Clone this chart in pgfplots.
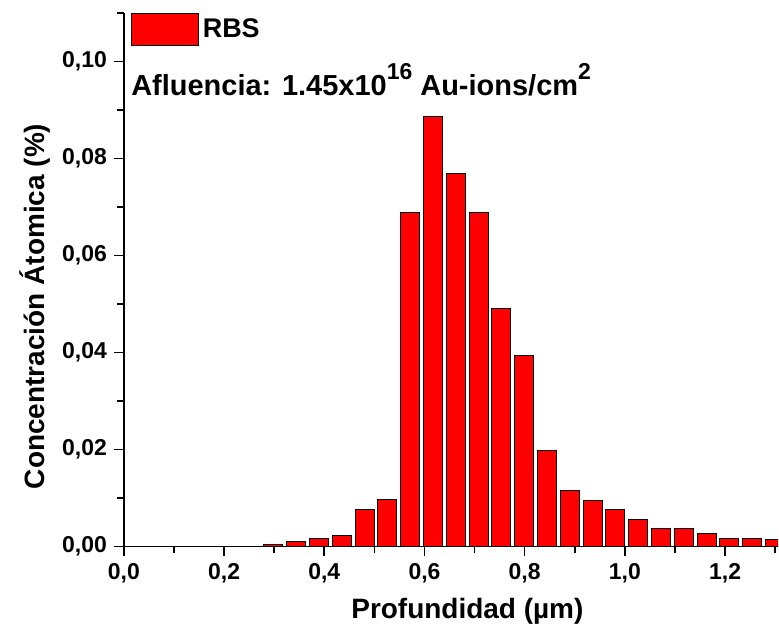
\documentclass[border=0pt]{standalone}
\usepackage{pgfplots}
\pgfplotsset{compat=1.18}
\usepackage{fontspec}
\setmainfont{Liberation Sans}

\definecolor{barred}{HTML}{FF0000}
\newcommand{\supr}[1]{\raisebox{0.55em}{\fontsize{11.5}{12}\selectfont #1}}

\begin{document}
\begin{tikzpicture}
\begin{axis}[
    scale only axis,
    width=327.5pt, height=267pt,
    xmin=0, xmax=1.306,
    ymin=0, ymax=0.11,
    axis x line*=bottom,
    axis y line*=left,
    axis line style={line width=0.8pt},
    tick align=outside,
    tick style={black, line width=0.8pt},
    major tick length=5pt,
    minor tick length=3.2pt,
    xtick={0,0.2,0.4,0.6,0.8,1.0,1.2},
    minor xtick={0.1,0.3,0.5,0.7,0.9,1.1,1.3},
    ytick={0,0.02,0.04,0.06,0.08,0.10},
    minor ytick={0.01,0.03,0.05,0.07,0.09,0.11},
    /pgf/number format/assume math mode=true,
    xticklabel style={/pgf/number format/.cd, fixed, fixed zerofill, precision=1, use comma},
    yticklabel style={/pgf/number format/.cd, fixed, fixed zerofill, precision=2, use comma},
    tick label style={font=\bfseries\fontsize{11.5}{13}\selectfont},
    label style={font=\bfseries\fontsize{14}{16}\selectfont},
    xlabel={Profundidad (µm)},
    ylabel={Concentración Átomica (\%)},
    xlabel style={at={(axis description cs:0.525,-0.122)}, anchor=center},
    ylabel style={at={(axis description cs:-0.136,0.45)}, anchor=center, rotate=0},
    ybar, bar width=0.0379,
    legend style={at={(axis description cs:0.0107,1)}, anchor=north west,
        draw=none, fill=none, inner sep=0pt, outer sep=0pt,
        font=\bfseries\fontsize{13.5}{15}\selectfont},
    legend cell align=left,
    legend image code/.code={\draw[#1, draw=black, line width=0.5pt] (0pt,-8pt) rectangle (33.5pt,8pt);},
]
\addplot[fill=barred, draw=black, line width=0.5pt] coordinates {
    (0.2985,0.0005) (0.3440,0.0010) (0.3895,0.0017) (0.4350,0.0023)
    (0.4805,0.0076) (0.5260,0.0096) (0.5715,0.0689) (0.6170,0.0887)
    (0.6625,0.0768) (0.7080,0.0689) (0.7535,0.0491) (0.7990,0.0394)
    (0.8445,0.0197) (0.8900,0.0115) (0.9355,0.0095) (0.9810,0.0076)
    (1.0265,0.0056) (1.0720,0.0037) (1.1175,0.0037) (1.1630,0.0026)
    (1.2085,0.0017) (1.2540,0.0017) (1.2995,0.0014)
};
\legend{RBS}
\node[anchor=base west, inner sep=0pt, font=\bfseries\fontsize{14.5}{16}\selectfont]
    at (axis description cs:0.0107,0.846)
    {Afluencia: 1.45x10\supr{16} Au-ions/cm\supr{2}};
\coordinate (bl) at (axis description cs:0,0);
\coordinate (tr) at (axis description cs:1,1);
\end{axis}
\path ([shift={(-62pt,-45.5pt)}]bl) rectangle ([shift={(0pt,6.5pt)}]tr);
\end{tikzpicture}
\end{document}
